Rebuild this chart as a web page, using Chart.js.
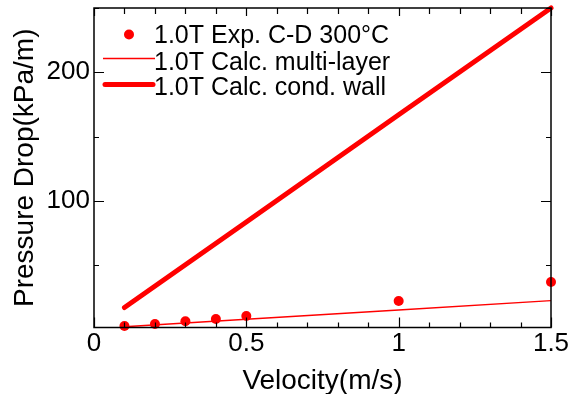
<!DOCTYPE html>
<html>
<head>
<meta charset="utf-8">
<script src="https://cdn.jsdelivr.net/npm/chart.js@4/dist/chart.umd.min.js"></script>
<style>
  html, body { margin: 0; padding: 0; background: #fff; }
  #wrap { width: 577px; height: 394px; }
</style>
</head>
<body>
<div id="wrap"><canvas id="c" width="577" height="394"></canvas></div>
<script>
// ---- data ----
const expVelocity = [0.1, 0.2, 0.3, 0.4, 0.5, 1.0, 1.5];
const expDrop = [2.6, 4.2, 6.3, 8.1, 10.4, 22.1, 36.9];
const calcVelocity = [0.1, 0.5, 1.0, 1.5];
const multiLayerDrop = [2.1, 7.9, 15.1, 22.4];
const condWallDrop = [17, 83.5, 167, 250];
const seriesLabels = ['1.0T Exp. C-D 300°C', '1.0T Calc. multi-layer', '1.0T Calc. cond. wall'];
const xTickValues = [0, 0.1, 0.2, 0.3, 0.4, 0.5, 0.6, 0.7, 0.8, 0.9, 1.0, 1.1, 1.2, 1.3, 1.4, 1.5];
const xTickLabels = ['0', '0.5', '1', '1.5'];
const xLabeledValues = [0, 0.5, 1.0, 1.5];
const yTickValues = [50, 100, 150, 200, 250];
const yTickLabels = ['100', '200'];
const yLabeledValues = [100, 200];

const RED = '#ff0000';
const FONT = '"Liberation Sans", Arial, sans-serif';

function pts(xs, ys) { return xs.map((x, i) => ({ x: x, y: ys[i] })); }

const framePlugin = {
  id: 'frameTicks',
  afterDraw(chart) {
    const { ctx, chartArea: a, scales: { x, y } } = chart;
    ctx.save();
    ctx.strokeStyle = '#000';
    ctx.lineWidth = 1.5;
    ctx.strokeRect(a.left, a.top, a.right - a.left, a.bottom - a.top);
    ctx.lineWidth = 1.2;
    ctx.beginPath();
    xTickValues.forEach(v => {
      const px = Math.round(x.getPixelForValue(v)) + 0.5;
      const major = xLabeledValues.some(m => Math.abs(m - v) < 1e-9);
      const len = major ? 10 : 5;
      ctx.moveTo(px, a.bottom); ctx.lineTo(px, a.bottom - len);
      ctx.moveTo(px, a.top); ctx.lineTo(px, a.top + (major ? 8 : 6));
    });
    yTickValues.forEach(v => {
      const py = Math.round(y.getPixelForValue(v)) + 0.5;
      const major = yLabeledValues.indexOf(v) >= 0;
      const len = major ? 10 : 5;
      ctx.moveTo(a.left, py); ctx.lineTo(a.left + len, py);
      ctx.moveTo(a.right, py); ctx.lineTo(a.right - len, py);
    });
    ctx.stroke();

    // legend (inside plot, top-left)
    ctx.font = '25px ' + FONT;
    ctx.fillStyle = '#000';
    ctx.textAlign = 'left';
    ctx.textBaseline = 'alphabetic';
    const textX = 154;
    const baselines = [43, 69.5, 95];
    ctx.fillText(seriesLabels[0], textX, baselines[0]);
    ctx.fillText(seriesLabels[1], textX, baselines[1]);
    ctx.fillText(seriesLabels[2], textX, baselines[2]);
    ctx.fillStyle = RED;
    ctx.beginPath();
    ctx.arc(129, 34.5, 5, 0, Math.PI * 2);
    ctx.fill();
    ctx.strokeStyle = RED;
    ctx.lineWidth = 1.3;
    ctx.beginPath(); ctx.moveTo(103, 58.5); ctx.lineTo(155, 58.5); ctx.stroke();
    ctx.lineWidth = 5;
    ctx.lineCap = 'round';
    ctx.beginPath(); ctx.moveTo(105, 84.5); ctx.lineTo(153, 84.5); ctx.stroke();
    ctx.restore();
  }
};

new Chart(document.getElementById('c'), {
  type: 'scatter',
  data: {
    datasets: [
      {
        label: seriesLabels[0],
        data: pts(expVelocity, expDrop),
        pointRadius: 5,
        pointStyle: 'circle',
        backgroundColor: RED,
        borderColor: RED,
        borderWidth: 0,
        showLine: false,
        clip: false
      },
      {
        label: seriesLabels[1],
        data: pts(calcVelocity, multiLayerDrop),
        showLine: true,
        borderColor: RED,
        borderWidth: 1.3,
        pointRadius: 0,
        fill: false
      },
      {
        label: seriesLabels[2],
        data: pts(calcVelocity, condWallDrop),
        showLine: true,
        borderColor: RED,
        borderWidth: 5,
        borderCapStyle: 'round',
        pointRadius: 0,
        fill: false,
        clip: 4
      }
    ]
  },
  options: {
    responsive: false,
    animation: false,
    devicePixelRatio: 1,
    layout: { padding: { top: 8, right: 26, left: 0, bottom: 0 } },
    plugins: { legend: { display: false }, tooltip: { enabled: false } },
    scales: {
      x: {
        type: 'linear',
        min: 0, max: 1.5,
        grid: { display: false, drawTicks: false },
        border: { display: false },
        afterBuildTicks(scale) { scale.ticks = xTickValues.map(v => ({ value: v })); },
        afterFit(scale) { scale.height = 66.5; scale.paddingLeft = 0; scale.paddingRight = 0; },
        ticks: {
          autoSkip: false, maxRotation: 0, padding: 1,
          color: '#000',
          font: { family: FONT, size: 26 },
          callback(v) {
            const i = xLabeledValues.findIndex(m => Math.abs(m - v) < 1e-9);
            return i >= 0 ? xTickLabels[i] : '';
          }
        },
        title: {
          display: true, text: 'Velocity(m/s)', color: '#000',
          font: { family: FONT, size: 28, lineHeight: 1 },
          padding: { top: 0, bottom: -1 }
        }
      },
      y: {
        type: 'linear',
        min: 1.5, max: 250,
        grid: { display: false, drawTicks: false },
        border: { display: false },
        afterBuildTicks(scale) { scale.ticks = yTickValues.map(v => ({ value: v })); },
        afterFit(scale) { scale.width = 94; scale.paddingTop = 0; scale.paddingBottom = 0; },
        ticks: {
          autoSkip: false, padding: 4,
          color: '#000',
          font: { family: FONT, size: 26 },
          callback(v) {
            const i = yLabeledValues.indexOf(v);
            return i >= 0 ? yTickLabels[i] : '';
          }
        },
        title: {
          display: true, text: 'Pressure Drop(kPa/m)', color: '#000',
          font: { family: FONT, size: 28, lineHeight: 1 },
          padding: { top: 11, bottom: 0 }
        }
      }
    }
  },
  plugins: [framePlugin]
});
</script>
</body>
</html>
